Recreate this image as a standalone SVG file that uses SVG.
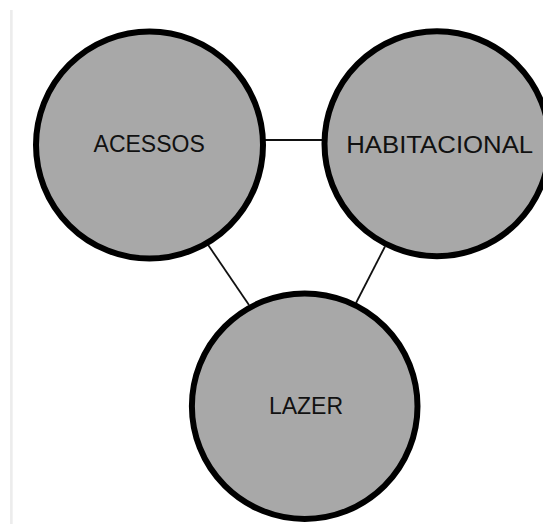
<svg xmlns="http://www.w3.org/2000/svg" width="543" height="524" viewBox="0 0 543 524">
<style>
.node{fill:#a8a8a8;stroke:#000;stroke-width:6}
.lbl{font-family:"Liberation Sans",Arial,sans-serif;font-size:23px;fill:#111;text-anchor:middle}
.conn{stroke:#111;stroke-width:1.8;fill:none}
</style>
<rect x="0" y="0" width="543" height="524" fill="#fff"/>
<line x1="11.4" y1="10" x2="11.4" y2="524" stroke="#ececec" stroke-width="2.6"/>
<g id="connectors">
<line class="conn" x1="264" y1="140" x2="324" y2="140"/>
<line class="conn" x1="207.5" y1="244" x2="249" y2="305"/>
<line class="conn" x1="385" y1="246.5" x2="356" y2="303"/>
</g>
<g id="acessos">
<circle class="node" cx="149.5" cy="145" r="113.5"/>
<text class="lbl" x="149.2" y="151.7">ACESSOS</text>
</g>
<g id="habitacional">
<circle class="node" cx="437" cy="143.7" r="112.5"/>
<text class="lbl" x="439.7" y="153.3" textLength="187" lengthAdjust="spacingAndGlyphs">HABITACIONAL</text>
</g>
<g id="lazer">
<circle class="node" cx="304.7" cy="406.2" r="112.8"/>
<text class="lbl" x="306" y="414.3">LAZER</text>
</g>
</svg>
